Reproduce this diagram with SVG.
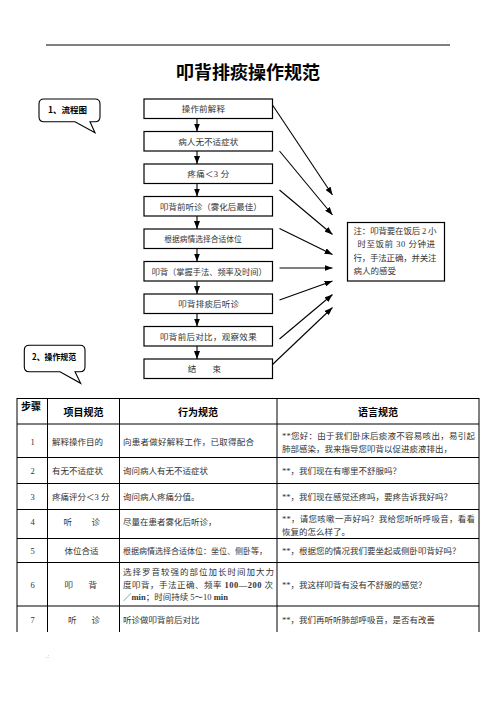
<svg xmlns="http://www.w3.org/2000/svg" width="496" height="702" viewBox="0 0 496 702">
<style>
text{font-family:"Liberation Serif","Noto Sans CJK SC",serif;}
.b{fill:#fff;stroke:#000;stroke-width:1.2}
.ft{font-size:8.5px;fill:#333}
.t{font-size:8.5px;fill:#333}
.c{text-anchor:middle}
.h{font-size:10px;font-weight:bold;fill:#000;font-family:"Noto Sans CJK SC",sans-serif;text-anchor:middle}
.ln{stroke:#000;stroke-width:1.1;fill:none}
.ar{stroke:#000;stroke-width:1.1;fill:none;marker-end:url(#ah)}
.tl{stroke:#000;stroke-width:1}
.cl{font-size:8.5px;font-weight:bold;fill:#000;font-family:"Noto Sans CJK SC",sans-serif}
</style>
<defs>
<marker id="ah" markerUnits="userSpaceOnUse" markerWidth="8" markerHeight="6" refX="8" refY="3" orient="auto">
<path d="M0,0 L8,3 L0,6 z" fill="#000"/>
</marker>
</defs>
<rect width="496" height="702" fill="#fff"/>
<line x1="46" y1="45" x2="450" y2="45" stroke="#000" stroke-width="1"/>
<text x="447" y="42" font-size="5" fill="#888">.</text>
<text x="248" y="79" font-size="18" font-weight="bold" text-anchor="middle" style="font-family:'Noto Sans CJK SC',sans-serif">叩背排痰操作规范</text>

<g id="callout1">
<path d="M44,99 H95 Q100,99 100,104 V116.7 Q100,121.7 95,121.7 H90 L95,132.7 L75,121.7 H44 Q39,121.7 39,116.7 V104 Q39,99 44,99 Z" class="ln" fill="#fff"/>
<text class="cl" x="48" y="113" textLength="39" lengthAdjust="spacingAndGlyphs">1、流程图</text>
</g>
<g id="callout2">
<path d="M29.3,345.3 H80 Q85,345.3 85,350.3 V366.7 Q85,371.7 80,371.7 H75 L80.7,383.3 L60,371.7 H29.3 Q24.3,371.7 24.3,366.7 V350.3 Q24.3,345.3 29.3,345.3 Z" class="ln" fill="#fff"/>
<text class="cl" x="32" y="359.5" textLength="44" lengthAdjust="spacingAndGlyphs">2、操作规范</text>
</g>

<g id="flow1"><rect class="b" x="144" y="99" width="128.5" height="19.5"/><text class="ft" x="181.7" y="112" textLength="43.3" lengthAdjust="spacing">操作前解释</text></g>
<g id="flow2"><rect class="b" x="144" y="131.5" width="128.5" height="19.5"/><text class="ft" x="178.3" y="144.5" textLength="60" lengthAdjust="spacingAndGlyphs">病人无不适症状</text></g>
<g id="flow3"><rect class="b" x="144" y="164" width="128.5" height="19.5"/><text class="ft" x="187.3" y="177" textLength="42" lengthAdjust="spacing">疼痛＜3 分</text></g>
<g id="flow4"><rect class="b" x="144" y="196.5" width="128.5" height="19.5"/><text class="ft" x="160" y="209.5" textLength="101.7" lengthAdjust="spacingAndGlyphs">叩背前听诊（雾化后最佳）</text></g>
<g id="flow5"><rect class="b" x="144" y="229" width="128.5" height="19.5"/><text class="ft" x="164.3" y="242" textLength="77.4" lengthAdjust="spacingAndGlyphs">根据病情选择合适体位</text></g>
<g id="flow6"><rect class="b" x="144" y="261.5" width="128.5" height="19.5"/><text class="ft" x="151.7" y="274.5" textLength="115" lengthAdjust="spacingAndGlyphs">叩背（掌握手法、频率及时间）</text></g>
<g id="flow7"><rect class="b" x="144" y="294" width="128.5" height="19.5"/><text class="ft" x="178.3" y="307" textLength="60.7" lengthAdjust="spacing">叩背排痰后听诊</text></g>
<g id="flow8"><rect class="b" x="144" y="326.5" width="128.5" height="19.5"/><text class="ft" x="160" y="339.5" textLength="96.7" lengthAdjust="spacing">叩背前后对比，观察效果</text></g>
<g id="flow9"><rect class="b" x="144" y="359" width="128.5" height="19.5"/><text class="ft" x="187.7" y="372">结</text><text class="ft" x="212.5" y="372">束</text></g>

<g id="note"><rect class="b" x="347.5" y="222.5" width="97" height="58.5"/>
<text class="t" x="353.5" y="234" textLength="83" lengthAdjust="spacing">注：叩背要在饭后 2 小</text>
<text class="t" x="357.5" y="247" textLength="77.5" lengthAdjust="spacing">时至饭前 30 分钟进</text>
<text class="t" x="353.5" y="260.5" textLength="83" lengthAdjust="spacing">行，手法正确，并关注</text>
<text class="t" x="353.5" y="274">病人的感受</text>
</g>

<g id="connectors">
<line class="ar" x1="197" y1="118.5" x2="197" y2="131.5"/>
<line class="ar" x1="197" y1="151" x2="197" y2="164"/>
<line class="ar" x1="197" y1="183.5" x2="197" y2="196.5"/>
<line class="ar" x1="197" y1="216" x2="197" y2="229"/>
<line class="ar" x1="197" y1="248.5" x2="197" y2="261.5"/>
<line class="ar" x1="197" y1="281" x2="197" y2="294"/>
<line class="ar" x1="197" y1="313.5" x2="197" y2="326.5"/>
<line class="ar" x1="197" y1="346" x2="197" y2="359"/>
<line class="ar" x1="272.5" y1="105" x2="332.5" y2="195"/>
<line class="ar" x1="279.5" y1="151" x2="332.5" y2="215"/>
<line class="ar" x1="279.5" y1="190" x2="332.5" y2="234.5"/>
<line class="ar" x1="279.5" y1="228.5" x2="332.5" y2="254.5"/>
<line class="ar" x1="279.5" y1="268" x2="332.5" y2="268"/>
<line class="ar" x1="279.5" y1="300" x2="332.5" y2="281"/>
<line class="ar" x1="279.5" y1="339" x2="332.5" y2="294.5"/>
<line class="ar" x1="272.5" y1="364.5" x2="332.5" y2="307.5"/>
</g>

<g id="table">
<g class="tl">
<line x1="17" y1="398.5" x2="479" y2="398.5"/>
<line x1="17" y1="424" x2="479" y2="424"/>
<line x1="17" y1="457.5" x2="479" y2="457.5"/>
<line x1="17" y1="483.5" x2="479" y2="483.5"/>
<line x1="17" y1="509.5" x2="479" y2="509.5"/>
<line x1="17" y1="538.5" x2="479" y2="538.5"/>
<line x1="17" y1="562.5" x2="479" y2="562.5"/>
<line x1="17" y1="606" x2="479" y2="606"/>
<line x1="17" y1="398" x2="17" y2="632"/>
<line x1="47.5" y1="398" x2="47.5" y2="632"/>
<line x1="119.5" y1="398" x2="119.5" y2="632"/>
<line x1="277" y1="398" x2="277" y2="632"/>
<line x1="479" y1="398" x2="479" y2="632"/>
</g>
<text x="21" y="409.5" font-size="10" font-weight="bold" style="font-family:'Noto Sans CJK SC',sans-serif">步骤</text>
<text class="h" x="83.5" y="416">项目规范</text>
<text class="h" x="198" y="416">行为规范</text>
<text class="h" x="378" y="416">语言规范</text>

<text class="t c" x="32.5" y="445">1</text>
<text class="t" x="52" y="445">解释操作目的</text>
<text class="t" x="123" y="445" textLength="131" lengthAdjust="spacing">向患者做好解释工作，已取得配合</text>
<text class="t" x="282" y="439" textLength="193" lengthAdjust="spacing">**您好：由于我们卧床后痰液不容易咳出，易引起</text>
<text class="t" x="282" y="451.5">肺部感染，我来指导您叩背以促进痰液排出，</text>

<text class="t c" x="32.5" y="474">2</text>
<text class="t" x="52" y="474">有无不适症状</text>
<text class="t" x="123" y="474">询问病人有无不适症状</text>
<text class="t" x="282" y="474">**，我们现在有哪里不舒服吗？</text>

<text class="t c" x="32.5" y="500">3</text>
<text class="t" x="52" y="500">疼痛评分＜3 分</text>
<text class="t" x="123" y="500">询问病人疼痛分值。</text>
<text class="t" x="282" y="500">**，我们现在感觉还疼吗，要疼告诉我好吗？</text>

<text class="t c" x="32.5" y="525">4</text>
<text class="t" x="63.5" y="525">听</text>
<text class="t" x="91.5" y="525">诊</text>
<text class="t" x="123" y="525">尽量在患者雾化后听诊，</text>
<text class="t" x="282" y="521.5" textLength="193" lengthAdjust="spacing">**，请您咳嗽一声好吗？我给您听听呼吸音，看看</text>
<text class="t" x="282" y="535">恢复的怎么样了。</text>

<text class="t c" x="32.5" y="554">5</text>
<text class="t" x="64.5" y="554">体位合适</text>
<text class="t" x="123" y="554" textLength="144" lengthAdjust="spacingAndGlyphs">根据病情选择合适体位：坐位、侧卧等，</text>
<text class="t" x="282" y="554">**，根据您的情况我们要坐起或侧卧叩背好吗？</text>

<text class="t c" x="32.5" y="588">6</text>
<text class="t" x="64.5" y="588">叩</text>
<text class="t" x="88.5" y="588">背</text>
<text class="t" x="123" y="575" textLength="151" lengthAdjust="spacing">选择罗音较强的部位加长时间加大力</text>
<text class="t" x="123" y="587.5" textLength="150" lengthAdjust="spacing">度叩背，手法正确、频率 <tspan font-weight="bold">100—200</tspan> 次</text>
<text class="t" x="123" y="600">／<tspan font-weight="bold">min</tspan>；时间持续 5～10 <tspan font-weight="bold">min</tspan></text>
<text class="t" x="282" y="588">**，我这样叩背有没有不舒服的感觉？</text>

<text class="t c" x="32.5" y="622.5">7</text>
<text class="t" x="68" y="622.5">听</text>
<text class="t" x="91.5" y="622.5">诊</text>
<text class="t" x="123" y="622.5">听诊做叩背前后对比</text>
<text class="t" x="282" y="622.5">**，我们再听听肺部呼吸音，是否有改善</text>
</g>
<text x="46" y="658" font-size="6" fill="#aaa">.:</text>
</svg>
